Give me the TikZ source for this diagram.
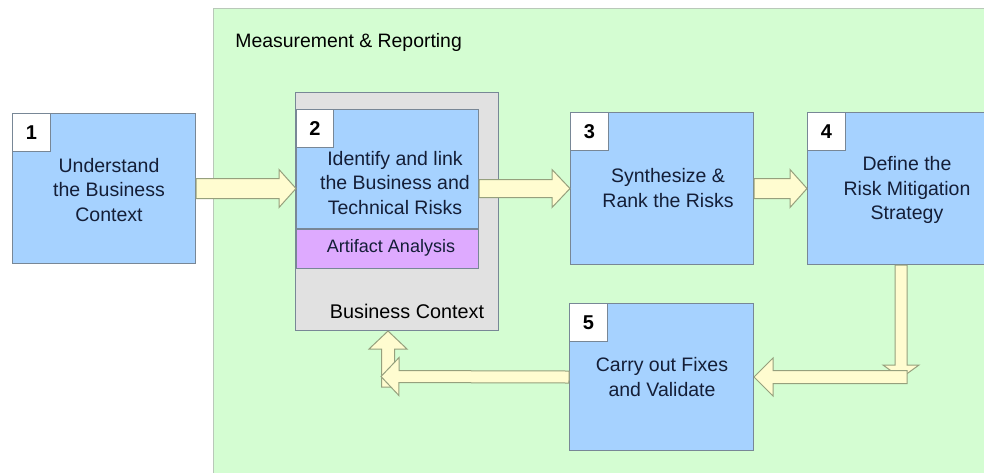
\documentclass[tikz,border=0pt]{standalone}
\usepackage{fontspec}
\setmainfont{Liberation Sans}
\usetikzlibrary{calc}
\definecolor{reportgreen}{RGB}{212,253,210}
\definecolor{reportline}{RGB}{185,200,185}
\definecolor{stageblue}{RGB}{166,210,255}
\definecolor{contextgray}{RGB}{225,225,225}
\definecolor{artifactpurple}{RGB}{222,170,255}
\definecolor{arrowfill}{RGB}{255,252,208}
\definecolor{arrowline}{RGB}{150,160,125}
\definecolor{boxline}{RGB}{120,135,150}
\definecolor{stagetext}{RGB}{20,30,55}

% block arrow: start, tip, shaft half width, head half width, head length
\newcommand{\blockarrow}[5]{%
  \coordinate (ba-s) at (#1);
  \coordinate (ba-t) at (#2);
  \coordinate (ba-h) at ($(ba-t)!#5!(ba-s)$);
  \draw[blockarrow] ($(ba-s)!#3!90:(ba-t)$) -- ($(ba-h)!#3!90:(ba-t)$)
    -- ($(ba-h)!#4!90:(ba-t)$) -- (ba-t) -- ($(ba-h)!#4!-90:(ba-t)$)
    -- ($(ba-h)!#3!-90:(ba-t)$) -- ($(ba-s)!#3!-90:(ba-t)$) -- cycle;
}

\begin{document}
\begin{tikzpicture}[x=0.5pt,y=-0.5pt]
	\tikzstyle{stage}=[draw=boxline,fill=stageblue,line width=0.5pt,anchor=north west,inner sep=0pt]
	\tikzstyle{numbox}=[draw=boxline,fill=white,line width=0.5pt,anchor=north west,inner sep=0pt,minimum width=19pt,minimum height=19pt,font=\fontsize{10}{12}\selectfont\bfseries]
	\tikzstyle{stagetext}=[align=center,text=stagetext,inner sep=0pt,font=\fontsize{9.75}{12.2}\selectfont]
	\tikzstyle{blockarrow}=[draw=arrowline,fill=arrowfill,line width=0.5pt,line join=miter]

	\clip (0,0) rectangle (984,472);
	\fill[white] (0,0) rectangle (984,472);

	% measurement & reporting area
	\node[draw=reportline,fill=reportgreen,line width=0.5pt,anchor=north west,minimum width=400pt,minimum height=240pt] (report) at (213,8) {};
	\node[anchor=west,inner sep=0pt,font=\fontsize{9.7}{11}\selectfont] (reporttitle) at (235,42) {Measurement \& Reporting};

	% stage 1
	\node[stage,minimum width=91.5pt,minimum height=75pt] (b1) at (12,113) {};
	\node[numbox] (n1) at (b1.north west) {1};
	\node[stagetext] (t1) at (109,190) {Understand\\the Business\\Context};

	% stage 2 with business context
	\node[draw=boxline,fill=contextgray,line width=0.5pt,anchor=north west,minimum width=101.5pt,minimum height=119pt] (ctx) at (295,92) {};
	\node[stage,minimum width=91pt,minimum height=59.5pt] (b2) at (296,109) {};
	\node[stage,fill=artifactpurple,minimum width=91pt,minimum height=19.5pt] (art) at (b2.south west) {};
	\node[numbox,minimum width=18.5pt] (n2) at (b2.north west) {2};
	\node[stagetext] (t2) at (395,183) {Identify and link\\the Business and\\Technical Risks};
	\node[stagetext,font=\fontsize{9}{11}\selectfont] (tart) at (391,248) {Artifact Analysis};
	\node[inner sep=0pt,font=\fontsize{9.9}{12}\selectfont] (tctx) at (407,311) {Business Context};

	% stage 3
	\node[stage,minimum width=91.5pt,minimum height=76pt] (b3) at (570,112) {};
	\node[numbox] (n3) at (b3.north west) {3};
	\node[stagetext] (t3) at (668,188) {Synthesize \&\\Rank the Risks};

	% stage 4
	\node[stage,minimum width=95pt,minimum height=76pt] (b4) at (807,112) {};
	\node[numbox] (n4) at (b4.north west) {4};
	\node[stagetext] (t4) at (907,190) {Define the\\Risk Mitigation\\Strategy};

	% stage 5
	\node[stage,minimum width=92pt,minimum height=73.5pt] (b5) at (569,303) {};
	\node[numbox] (n5) at (b5.north west) {5};
	\node[stagetext] (t5) at (662,377) {Carry out Fixes\\and Validate};

	% arrows
	\blockarrow{b1.east}{b1.east -| b2.west}{5pt}{9.5pt}{8.5pt}
	\blockarrow{b2.east |- b3.west}{b3.west}{4.5pt}{9.5pt}{9pt}
	\blockarrow{b3.east}{b4.west}{5pt}{9.5pt}{8.5pt}

	\coordinate (turn4) at (901,378);
	\coordinate (turn5) at (907,377);
	\blockarrow{b4.south -| turn4}{turn4}{3pt}{9pt}{6.5pt}
	\blockarrow{turn5}{b5.east}{3.25pt}{9.5pt}{9.5pt}

	\coordinate (back2) at (388,387);
	\coordinate (back5) at (381,376.5);
	\blockarrow{back2}{ctx.south -| back2}{3.25pt}{9.5pt}{9pt}
	\blockarrow{b5.west}{back5}{3pt}{9.5pt}{9pt}
\end{tikzpicture}
\end{document}
